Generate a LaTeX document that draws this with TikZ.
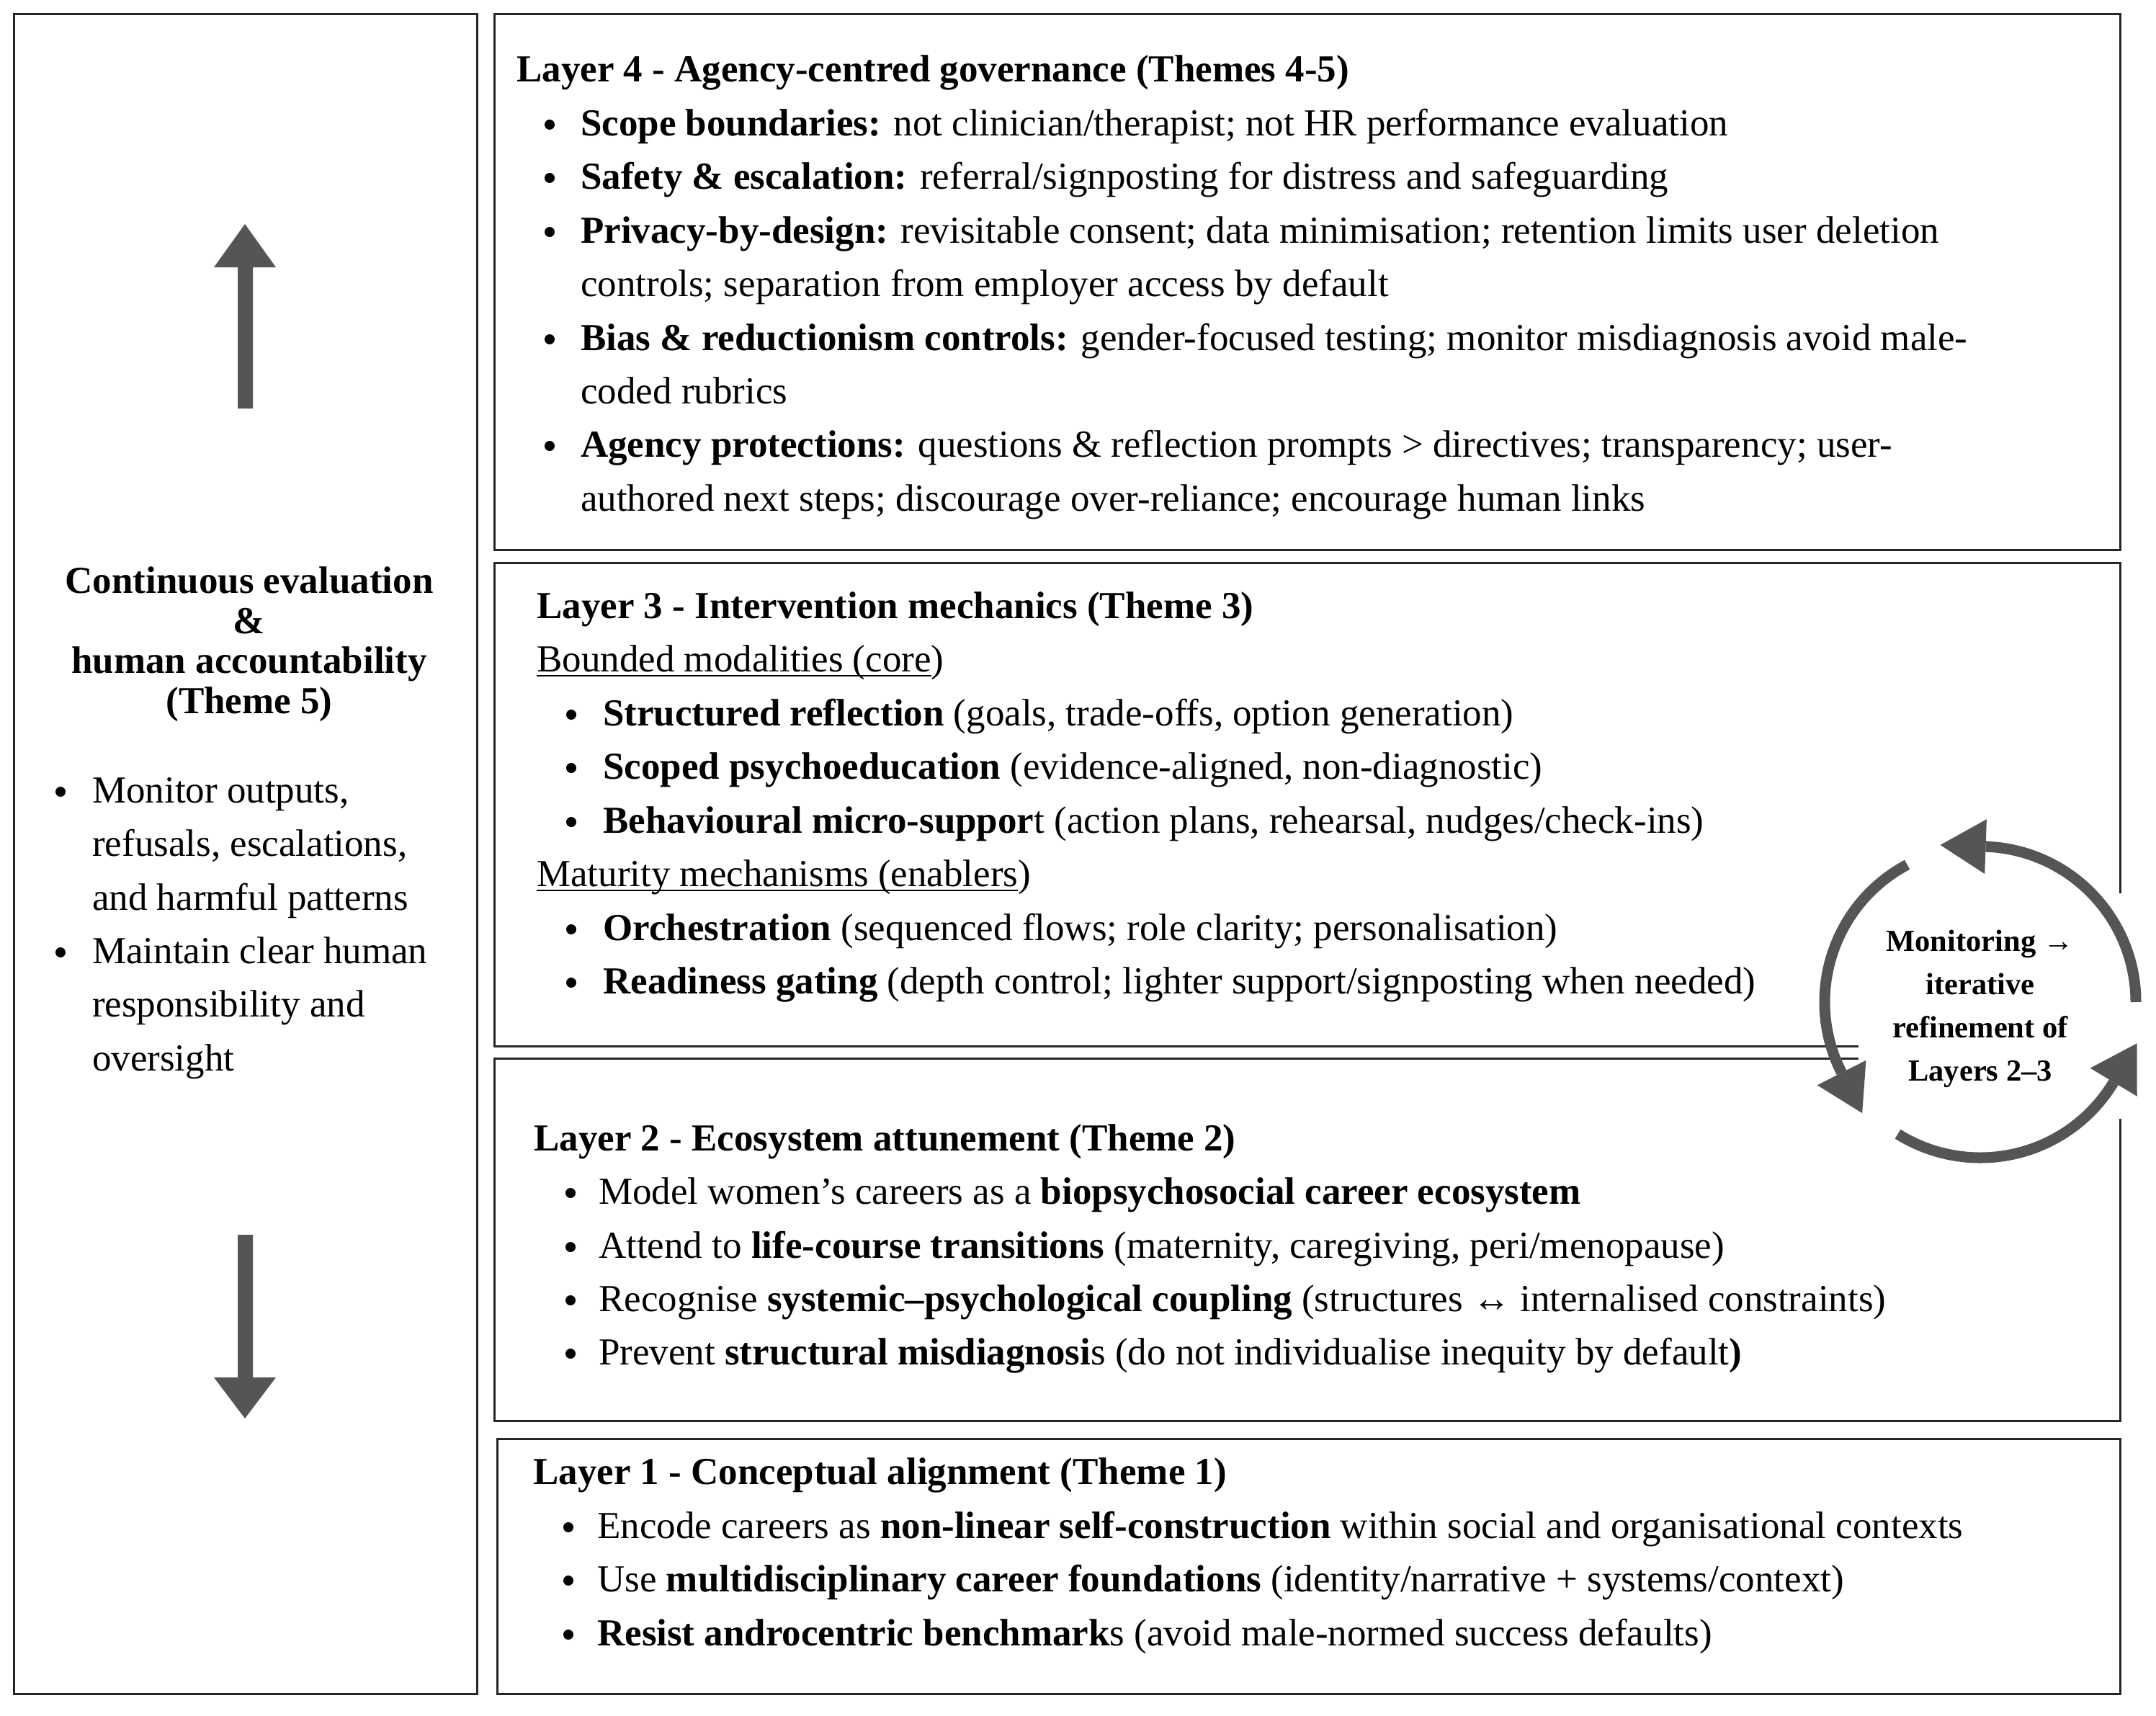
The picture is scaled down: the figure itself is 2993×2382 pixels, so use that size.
\documentclass[tikz,border=0pt]{standalone}
\usepackage{fontspec}
\setmainfont{Liberation Serif}
\usetikzlibrary{calc}
\definecolor{arrowgray}{HTML}{555555}
\newcommand{\myul}[1]{\setbox0\hbox{#1}\rlap{\rule[-7pt]{\wd0}{2.5pt}}\box0}
\tikzset{
  box/.style={draw=black!85, line width=3pt},
  tx/.style={anchor=base west, inner sep=0pt, font=\fontsize{53}{64}\selectfont},
  txb/.style={tx, font=\bfseries\fontsize{53}{64}\selectfont},
  txc/.style={anchor=base, inner sep=0pt, font=\bfseries\fontsize{53}{64}\selectfont},
  dot/.style={circle, fill=black, draw=none, inner sep=0pt, minimum size=14pt},
  ct/.style={anchor=base, inner sep=0pt, font=\bfseries\fontsize{42.5}{50}\selectfont},
  gfill/.style={fill=arrowgray, draw=none},
  ring/.style={draw=arrowgray, line width=15pt},
}
\begin{document}
\begin{tikzpicture}[x=1pt, y=-1pt]
\useasboundingbox[fill=white] (0,0) rectangle (2993,2382);

% ---------- boxes ----------
\draw[box] (19,20) rectangle (662,2351);
\draw[box] (686,20) rectangle (2943,763);
\draw[box] (686,781) rectangle (2943,1452);
\draw[box] (686,1469) rectangle (2943,1972);
\draw[box] (690,1997) rectangle (2943,2351);

% ---------- left column arrows ----------
\fill[gfill] (330,567) -- (330,371) -- (297,371) -- (340,311) -- (383,371) -- (351,371) -- (351,567) -- cycle;
\fill[gfill] (330,1714) -- (330,1912) -- (297,1912) -- (340,1969) -- (383,1912) -- (351,1912) -- (351,1714) -- cycle;

% ---------- left column text ----------
\node[txc] (lt1) at (346,823) {Continuous evaluation};
\node[txc] (lt2) at (346,879) {\&};
\node[txc] (lt3) at (346,934) {human accountability};
\node[txc] (lt4) at (346,990) {(Theme 5)};
\node[dot] (lb1) at (84,1099) {};
\node[tx] (ll1) at (128,1114) {Monitor outputs,};
\node[tx] (ll2) at (128,1188) {refusals, escalations,};
\node[tx] (ll3) at (128,1263) {and harmful patterns};
\node[dot] (lb2) at (84,1322) {};
\node[tx] (ll4) at (128,1337) {Maintain clear human};
\node[tx] (ll5) at (128,1411) {responsibility and};
\node[tx] (ll6) at (128,1486) {oversight};

% ---------- Layer 4 ----------
\node[txb] (l4t) at (717,113) {Layer 4 - Agency-centred governance (Themes 4-5)};
\node[dot] (l4b1) at (763,173) {};
\node[tx] (l4a) at (806,188) {\textbf{Scope boundaries:} not clinician/therapist; not HR performance evaluation};
\node[dot] (l4b2) at (763,247) {};
\node[tx] (l4b) at (806,262) {\textbf{Safety \& escalation:} referral/signposting for distress and safeguarding};
\node[dot] (l4b3) at (763,322) {};
\node[tx] (l4c) at (806,337) {\textbf{Privacy-by-design:} revisitable consent; data minimisation; retention limits user deletion};
\node[tx] (l4c2) at (806,411) {controls; separation from employer access by default};
\node[dot] (l4b4) at (763,471) {};
\node[tx] (l4d) at (806,486) {\textbf{Bias \& reductionism controls:} gender-focused testing; monitor misdiagnosis avoid male-};
\node[tx] (l4d2) at (806,560) {coded rubrics};
\node[dot] (l4b5) at (763,619) {};
\node[tx] (l4e) at (806,634) {\textbf{Agency protections:} questions \& reflection prompts > directives; transparency; user-};
\node[tx] (l4e2) at (806,709) {authored next steps; discourage over-reliance; encourage human links};

% ---------- Layer 3 ----------
\node[txb] (l3t) at (745,858) {Layer 3 - Intervention mechanics (Theme 3)};
\node[tx] (l3s1) at (745,932) {\myul{Bounded modalities (core})};
\node[dot] (l3b1) at (793,992) {};
\node[tx] (l3a) at (837,1007) {\textbf{Structured reflection} (goals, trade-offs, option generation)};
\node[dot] (l3b2) at (793,1066) {};
\node[tx] (l3b) at (837,1081) {\textbf{Scoped psychoeducation} (evidence-aligned, non-diagnostic)};
\node[dot] (l3b3) at (793,1141) {};
\node[tx] (l3c) at (837,1156) {\textbf{Behavioural micro-suppor}t (action plans, rehearsal, nudges/check-ins)};
\node[tx] (l3s2) at (745,1230) {\myul{Maturity mechanisms (enablers})};
\node[dot] (l3b4) at (793,1290) {};
\node[tx] (l3d) at (837,1305) {\textbf{Orchestration} (sequenced flows; role clarity; personalisation)};
\node[dot] (l3b5) at (793,1364) {};
\node[tx] (l3e) at (837,1379) {\textbf{Readiness gating} (depth control; lighter support/signposting when needed)};

% ---------- Layer 2 ----------
\node[txb] (l2t) at (741,1597) {Layer 2 - Ecosystem attunement (Theme 2)};
\node[dot] (l2b1) at (792,1656) {};
\node[tx] (l2a) at (831,1671) {Model women’s careers as a \textbf{biopsychosocial career ecosystem}};
\node[dot] (l2b2) at (792,1731) {};
\node[tx] (l2b) at (831,1746) {Attend to \textbf{life-course transitions} (maternity, caregiving, peri/menopause)};
\node[dot] (l2b3) at (792,1805) {};
\node[tx] (l2c) at (831,1820) {Recognise \textbf{systemic–psychological coupling} (structures ↔ internalised constraints)};
\node[dot] (l2b4) at (792,1879) {};
\node[tx] (l2d) at (831,1894) {Prevent \textbf{structural misdiagnosi}s (do not individualise inequity by default\textbf{)}};

% ---------- Layer 1 ----------
\node[txb] (l1t) at (740,2060) {Layer 1 - Conceptual alignment (Theme 1)};
\node[dot] (l1b1) at (789,2120) {};
\node[tx] (l1a) at (829,2135) {Encode careers as \textbf{non-linear self-construction} within social and organisational contexts};
\node[dot] (l1b2) at (789,2194) {};
\node[tx] (l1b) at (829,2209) {Use \textbf{multidisciplinary career foundations} (identity/narrative + systems/context)};
\node[dot] (l1b3) at (789,2269) {};
\node[tx] (l1c) at (829,2284) {\textbf{Resist androcentric benchmark}s (avoid male-normed success defaults)};

% ---------- refinement cycle ----------
\fill[white] (2580,1240) rectangle (2993,1553);
\begin{scope}[shift={(2749,1391)}, y=1pt]
  \draw[ring] (0:216pt) arc[start angle=0, end angle=88, radius=216pt];
  \fill[gfill] (88:254pt) -- (88:178pt) -- ($(88:216pt)+(178:63pt)$) -- cycle;
  \draw[ring] (118:216pt) arc[start angle=118, end angle=207, radius=216pt];
  \fill[gfill] (207:254pt) -- (207:178pt) -- ($(207:216pt)+(297:63pt)$) -- cycle;
  \draw[ring] (238:216pt) arc[start angle=238, end angle=329, radius=216pt];
  \fill[gfill] (329:254pt) -- (329:178pt) -- ($(329:216pt)+(59:63pt)$) -- cycle;
\end{scope}
\node[ct] (c1) at (2749,1320) {Monitoring →};
\node[ct] (c2) at (2749,1380) {iterative};
\node[ct] (c3) at (2749,1440) {refinement of};
\node[ct] (c4) at (2749,1500) {Layers 2–3};
\end{tikzpicture}
\end{document}
